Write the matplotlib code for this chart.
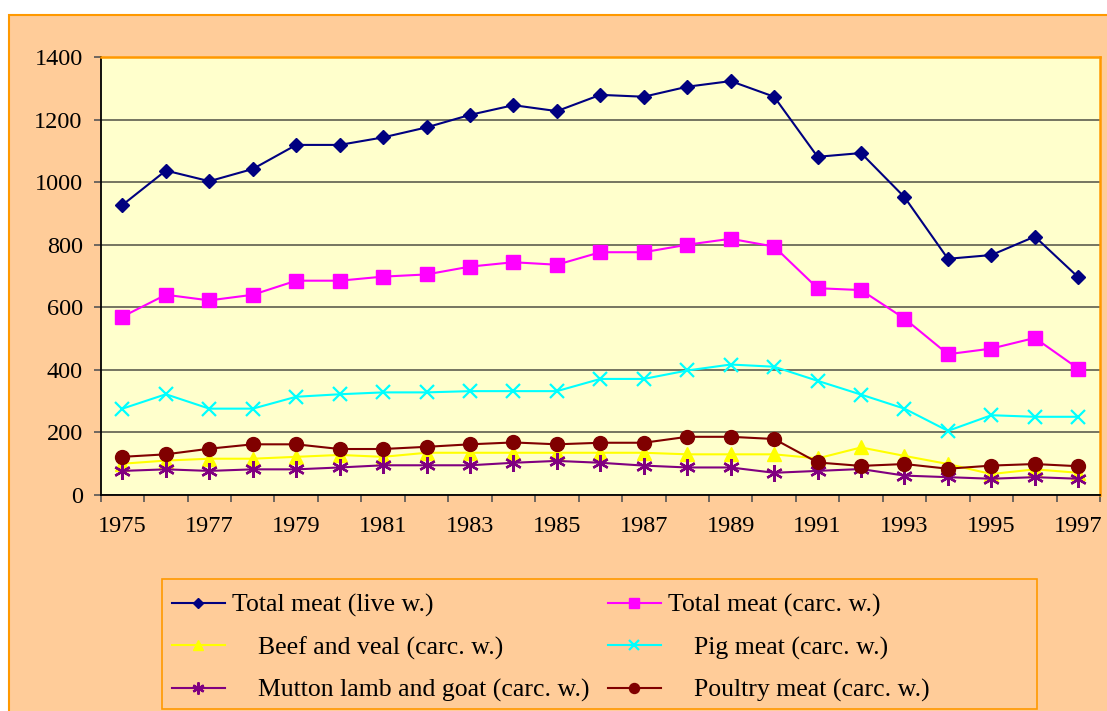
import matplotlib.pyplot as plt
from matplotlib.patches import Rectangle

plt.rcParams['font.family'] = ['Liberation Serif', 'DejaVu Serif']

years = list(range(1975, 1998))
total_live = [927, 1037, 1003, 1042, 1119, 1119, 1143, 1175, 1215, 1246, 1227, 1279,
              1273, 1305, 1323, 1273, 1081, 1093, 952, 755, 767, 826, 696]
total_carc = [570, 640, 622, 640, 685, 685, 698, 705, 730, 744, 736, 776,
              776, 800, 819, 794, 661, 655, 564, 450, 468, 502, 404]
beef = [100, 110, 116, 116, 122, 128, 122, 135, 135, 135, 135, 135,
        135, 130, 130, 130, 117, 152, 125, 99, 67, 82, 71]
pig = [276, 322, 276, 276, 314, 322, 328, 328, 332, 332, 332, 371,
       371, 398, 417, 410, 365, 321, 276, 205, 255, 250, 250]
mutton = [77, 82, 77, 82, 82, 88, 95, 95, 95, 103, 109, 103,
          94, 88, 88, 71, 77, 83, 62, 57, 52, 57, 52]
poultry = [122, 130, 148, 162, 162, 147, 147, 154, 162, 168, 162, 167,
           167, 186, 186, 179, 104, 93, 99, 84, 94, 99, 92]

labels = ['Total meat (live w.)', 'Total meat (carc. w.)',
          '    Beef and veal (carc. w.)', '    Pig meat (carc. w.)',
          '    Mutton lamb and goat (carc. w.)', '    Poultry meat (carc. w.)']

W, H = 1107, 711
fig = plt.figure(figsize=(W / 100, H / 100), dpi=100, facecolor='white')

# peach chart area with orange border
fig.add_artist(Rectangle((9 / W, -0.02), 1.0, (H - 15) / H + 0.02, transform=fig.transFigure,
                         facecolor='#FFCC99', edgecolor='#FF9900', lw=1.5, zorder=-2))
# legend box
fig.add_artist(Rectangle((162 / W, (H - 709) / H), (1037 - 162) / W, (709 - 579) / H,
                         transform=fig.transFigure, facecolor='#FFCC99',
                         edgecolor='#FF9900', lw=1.2, zorder=-1))

ax = fig.add_axes([100.7 / W, (H - 495) / H, (1100 - 100.7) / W, (495 - 57) / H])
ax.set_facecolor('#FFFFCC')

x = list(range(len(years)))
h1, = ax.plot(x, total_live, color='#000080', marker='D', ms=7.5, lw=1.5, clip_on=False)
h2, = ax.plot(x, total_carc, color='#FF00FF', marker='s', ms=10, lw=1.5, clip_on=False)
h3, = ax.plot(x, beef, color='#FFFF00', marker='^', ms=10, lw=1.5, clip_on=False)
h4, = ax.plot(x, pig, color='#00FFFF', marker='x', ms=10, mew=1.6, lw=1.5, clip_on=False)
h5, = ax.plot(x, mutton, color='#800080', marker=(6, 2, 0), ms=12, mew=1.7, lw=1.5, clip_on=False)
h6, = ax.plot(x, poultry, color='#800000', marker='o', ms=10, lw=1.5, clip_on=False)

ax.set_ylim(0, 1400)
ax.set_yticks(range(0, 1401, 200))
ax.set_xlim(-0.5, len(years) - 0.5)
# tick marks between categories, labels on every other year
ax.set_xticks([i - 0.5 for i in range(len(years) + 1)])
ax.set_xticklabels([])
ax.set_xticks(x[::2], minor=True)
ax.set_xticklabels([str(y) for y in years[::2]], minor=True)
ax.tick_params(axis='x', which='major', length=5, width=1.2, color='#555555')
ax.tick_params(axis='x', which='minor', length=0, pad=15, labelsize=17.5)
ax.tick_params(axis='y', length=5, width=1.2, color='#555555', pad=8, labelsize=17.5)

ax.grid(axis='y', color='#6a6a58', lw=1.3)
ax.set_axisbelow(True)
ax.spines['left'].set_color('black')
ax.spines['bottom'].set_color('black')
ax.spines['left'].set_linewidth(1.3)
ax.spines['bottom'].set_linewidth(1.3)
ax.spines['top'].set_color('#FF9900')
ax.spines['right'].set_color('#FF9900')
ax.spines['top'].set_linewidth(1.8)
ax.spines['right'].set_linewidth(1.8)

leg = ax.legend([h1, h3, h5, h2, h4, h6],
                [labels[0], labels[2], labels[4], labels[1], labels[3], labels[5]],
                ncol=2, loc='upper left', bbox_to_anchor=(172 / W, (H - 594) / H),
                bbox_transform=fig.transFigure, frameon=False, fontsize=18.5,
                handlelength=2.05, handletextpad=0.3, columnspacing=0.7,
                labelspacing=0.74, borderpad=0, borderaxespad=0, markerscale=0.72)

fig.savefig('out.png', dpi=100, facecolor='white')
